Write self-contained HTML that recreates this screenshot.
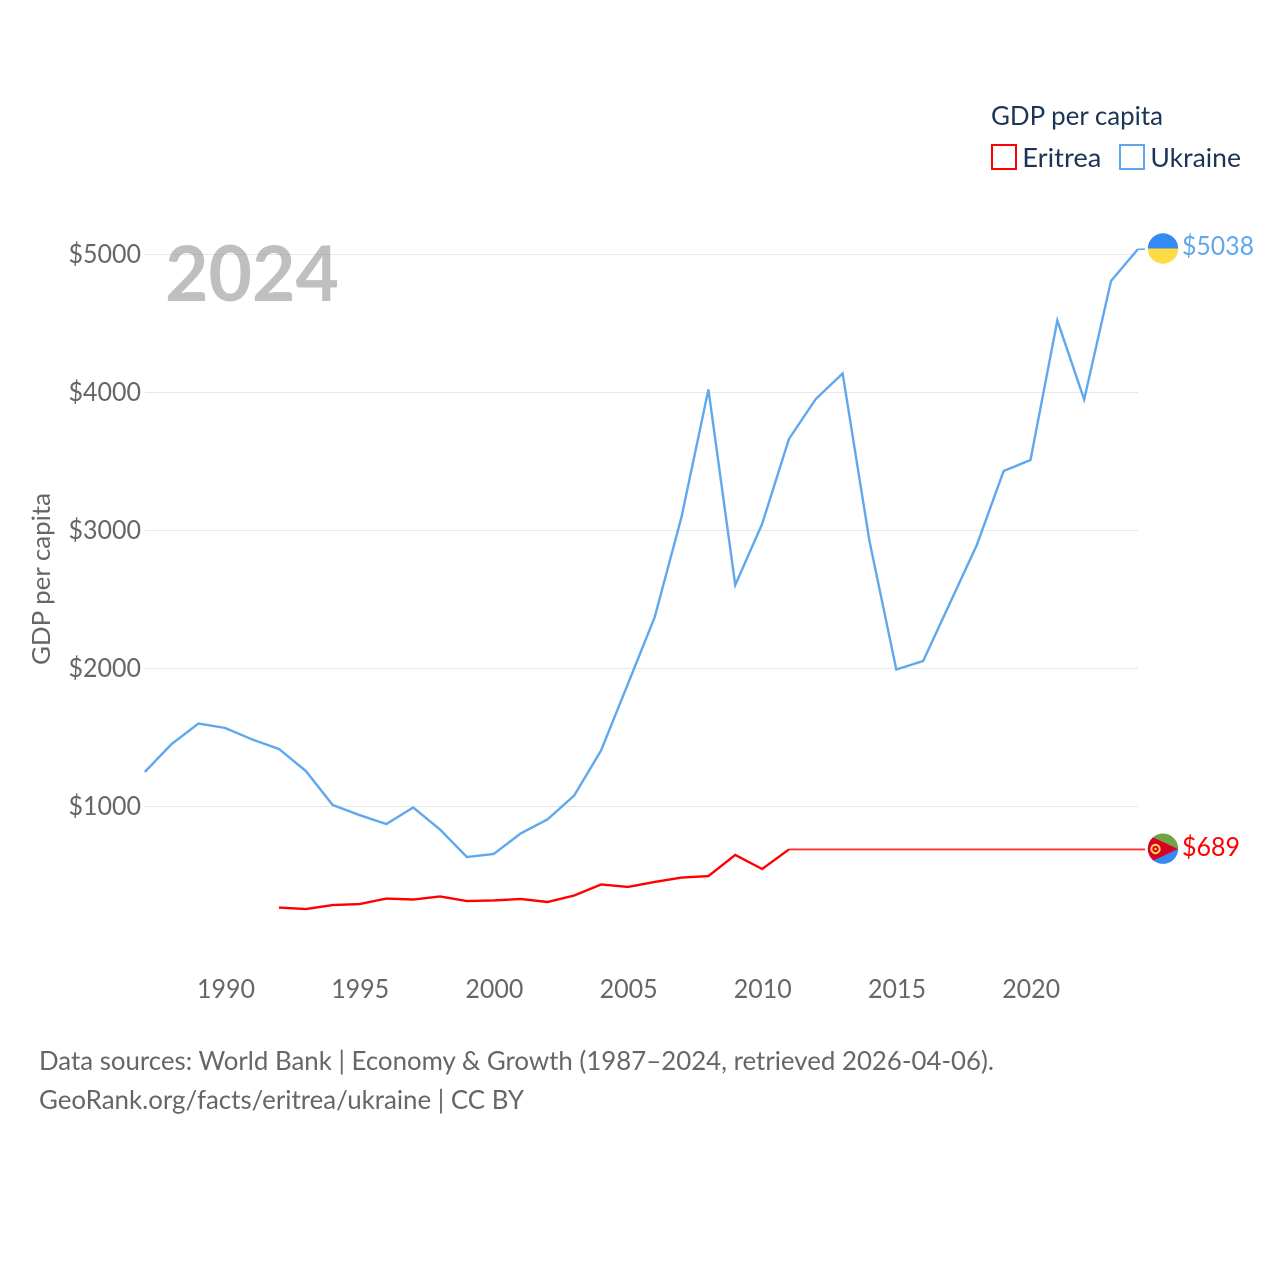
<!DOCTYPE html>
<html lang="en">
<head>
<meta charset="utf-8">
<title>GDP per capita: Eritrea and Ukraine</title>
<style>
html,body{margin:0;padding:0;background:#fff;}
svg{display:block;font-family:"Lato","Carlito","Liberation Sans",sans-serif;}
</style>
</head>
<body>
<svg id="chart" xmlns="http://www.w3.org/2000/svg" width="1280" height="1280" viewBox="0 0 1280 1280">
  <defs>
    <clipPath id="flag-clip-ua"><circle cx="1163" cy="248.5" r="15.2"/></clipPath>
    <clipPath id="flag-clip-er"><circle cx="1163" cy="848.7" r="15.2"/></clipPath>
  </defs>
  <rect x="0" y="0" width="1280" height="1280" fill="#ffffff"/>
  <g id="grid"></g>
  <text x="165" y="301" font-size="77" font-weight="700" fill="#808080" fill-opacity="0.5" textLength="174" lengthAdjust="spacingAndGlyphs">2024</text>
  <g id="y-ticks"></g>
  <g id="x-ticks"></g>
  <text transform="translate(50,665) rotate(-90)" font-size="25" fill="#666666" textLength="172" lengthAdjust="spacingAndGlyphs">GDP per capita</text>
  <g id="series"></g>

  <g>
    <text x="991" y="125" font-size="26" fill="#1b3557" textLength="172" lengthAdjust="spacingAndGlyphs">GDP per capita</text>
    <rect x="992" y="145" width="24" height="24" fill="none" stroke="#ff0000" stroke-width="2"/>
    <text x="1022.3" y="167" font-size="26" fill="#1b3557" textLength="79" lengthAdjust="spacingAndGlyphs">Eritrea</text>
    <rect x="1120" y="145" width="24" height="24" fill="none" stroke="#5fa8ee" stroke-width="2"/>
    <text x="1150.4" y="167" font-size="26" fill="#1b3557" textLength="90.6" lengthAdjust="spacingAndGlyphs">Ukraine</text>
  </g>

  <g clip-path="url(#flag-clip-ua)">
    <rect x="1147" y="232" width="32" height="16.5" fill="#338af3"/>
    <rect x="1147" y="248.5" width="32" height="16.5" fill="#ffda44"/>
  </g>
  <text id="label-ua" x="1182" y="255" font-size="26" fill="#5fa8ee" textLength="72" lengthAdjust="spacingAndGlyphs"></text>

  <g clip-path="url(#flag-clip-er)">
    <rect x="1147" y="833" width="32" height="16" fill="#6da544"/>
    <rect x="1147" y="849" width="32" height="16" fill="#338af3"/>
    <polygon points="1146,834 1178,849 1146,864" fill="#d80027"/>
    <circle cx="1155.5" cy="849" r="4.2" fill="none" stroke="#ffda44" stroke-width="2"/>
    <circle cx="1155.5" cy="849" r="1.2" fill="#ffda44"/>
  </g>
  <text id="label-er" x="1182" y="856" font-size="26" fill="#ff0000" textLength="58" lengthAdjust="spacingAndGlyphs"></text>

  <text x="39" y="1070" font-size="26" fill="#666666" textLength="955" lengthAdjust="spacingAndGlyphs">Data sources: World Bank | Economy &amp; Growth (1987–2024, retrieved 2026-04-06).</text>
  <text x="39" y="1109" font-size="26" fill="#666666" textLength="485" lengthAdjust="spacingAndGlyphs">GeoRank.org/facts/eritrea/ukraine | CC BY</text>
</svg>
<script>
const yTickValues = [1000, 2000, 3000, 4000, 5000];
const xTickYears = [1990, 1995, 2000, 2005, 2010, 2015, 2020];
const ukraineYears = [1987,1988,1989,1990,1991,1992,1993,1994,1995,1996,1997,1998,1999,2000,2001,2002,2003,2004,2005,2006,2007,2008,2009,2010,2011,2012,2013,2014,2015,2016,2017,2018,2019,2020,2021,2022,2023,2024];
const ukraineValues = [1250,1453,1601,1569,1486,1417,1257,1011,938,873,993,833,634,656,804,906,1080,1406,1888,2373,3100,4022,2605,3047,3663,3953,4138,2924,1993,2054,2475,2895,3431,3511,4522,3949,4808,5038];
const eritreaYears = [1992,1993,1994,1995,1996,1997,1998,1999,2000,2001,2002,2003,2004,2005,2006,2007,2008,2009,2010,2011];
const eritreaValues = [268,257,286,293,333,326,348,315,319,330,308,355,435,417,453,485,496,649,547,689];
const eritreaLatest = 689;
const ukraineLatest = 5038;

const NS = 'http://www.w3.org/2000/svg';
function xScale(year) { return 225.3 + (year - 1990) * 26.84; }
function yScale(value) { return 944.5 - value * 0.138; }
function pathFrom(years, values) {
  return years.map(function (year, i) {
    return xScale(year).toFixed(2) + ',' + yScale(values[i]).toFixed(2);
  }).join(' ');
}

const gridGroup = document.getElementById('grid');
const yTickGroup = document.getElementById('y-ticks');
yTickValues.forEach(function (value) {
  const line = document.createElementNS(NS, 'line');
  
  
  line.setAttribute('x1', 145);
  line.setAttribute('x2', 1138);
  line.setAttribute('y1', yScale(value));
  line.setAttribute('y2', yScale(value));
  line.setAttribute('stroke', '#e8e8e8');
  line.setAttribute('stroke-width', 1.1);
  gridGroup.appendChild(line);
  const label = document.createElementNS(NS, 'text');
  
  
  label.setAttribute('x', 141);
  label.setAttribute('y', yScale(value) + 8.5);
  label.setAttribute('text-anchor', 'end');
  label.setAttribute('font-size', 26);
  label.setAttribute('fill', '#666666');
  label.setAttribute('textLength', 72.5);
  label.setAttribute('lengthAdjust', 'spacingAndGlyphs');
  label.textContent = '$' + value;
  yTickGroup.appendChild(label);
});

const xTickGroup = document.getElementById('x-ticks');
xTickYears.forEach(function (year) {
  const label = document.createElementNS(NS, 'text');
  
  
  label.setAttribute('x', xScale(year) + 0.7);
  label.setAttribute('y', 998);
  label.setAttribute('text-anchor', 'middle');
  label.setAttribute('font-size', 26);
  label.setAttribute('fill', '#666666');
  label.setAttribute('textLength', 58);
  label.setAttribute('lengthAdjust', 'spacingAndGlyphs');
  label.textContent = String(year);
  xTickGroup.appendChild(label);
});

const seriesGroup = document.getElementById('series');

const ukraineLine = document.createElementNS(NS, 'polyline');


ukraineLine.setAttribute('points', pathFrom(ukraineYears, ukraineValues));
ukraineLine.setAttribute('fill', 'none');
ukraineLine.setAttribute('stroke', '#5fa8ee');
ukraineLine.setAttribute('stroke-width', 2.4);
seriesGroup.appendChild(ukraineLine);

const ukraineLeader = document.createElementNS(NS, 'line');


ukraineLeader.setAttribute('x1', xScale(2024));
ukraineLeader.setAttribute('x2', 1145);
ukraineLeader.setAttribute('y1', yScale(ukraineLatest));
ukraineLeader.setAttribute('y2', yScale(ukraineLatest));
ukraineLeader.setAttribute('stroke', '#5fa8ee');
ukraineLeader.setAttribute('stroke-width', 1.6);
seriesGroup.appendChild(ukraineLeader);

const eritreaLine = document.createElementNS(NS, 'polyline');


eritreaLine.setAttribute('points', pathFrom(eritreaYears, eritreaValues));
eritreaLine.setAttribute('fill', 'none');
eritreaLine.setAttribute('stroke', '#ff0000');
eritreaLine.setAttribute('stroke-width', 2.4);
seriesGroup.appendChild(eritreaLine);

const eritreaLeader = document.createElementNS(NS, 'line');


eritreaLeader.setAttribute('x1', xScale(2011));
eritreaLeader.setAttribute('x2', 1145);
eritreaLeader.setAttribute('y1', yScale(eritreaLatest));
eritreaLeader.setAttribute('y2', yScale(eritreaLatest));
eritreaLeader.setAttribute('stroke', '#ff3030');
eritreaLeader.setAttribute('stroke-width', 1.8);
seriesGroup.appendChild(eritreaLeader);

document.getElementById('label-ua').textContent = '$' + ukraineLatest;
document.getElementById('label-er').textContent = '$' + eritreaLatest;
</script>
</body>
</html>
